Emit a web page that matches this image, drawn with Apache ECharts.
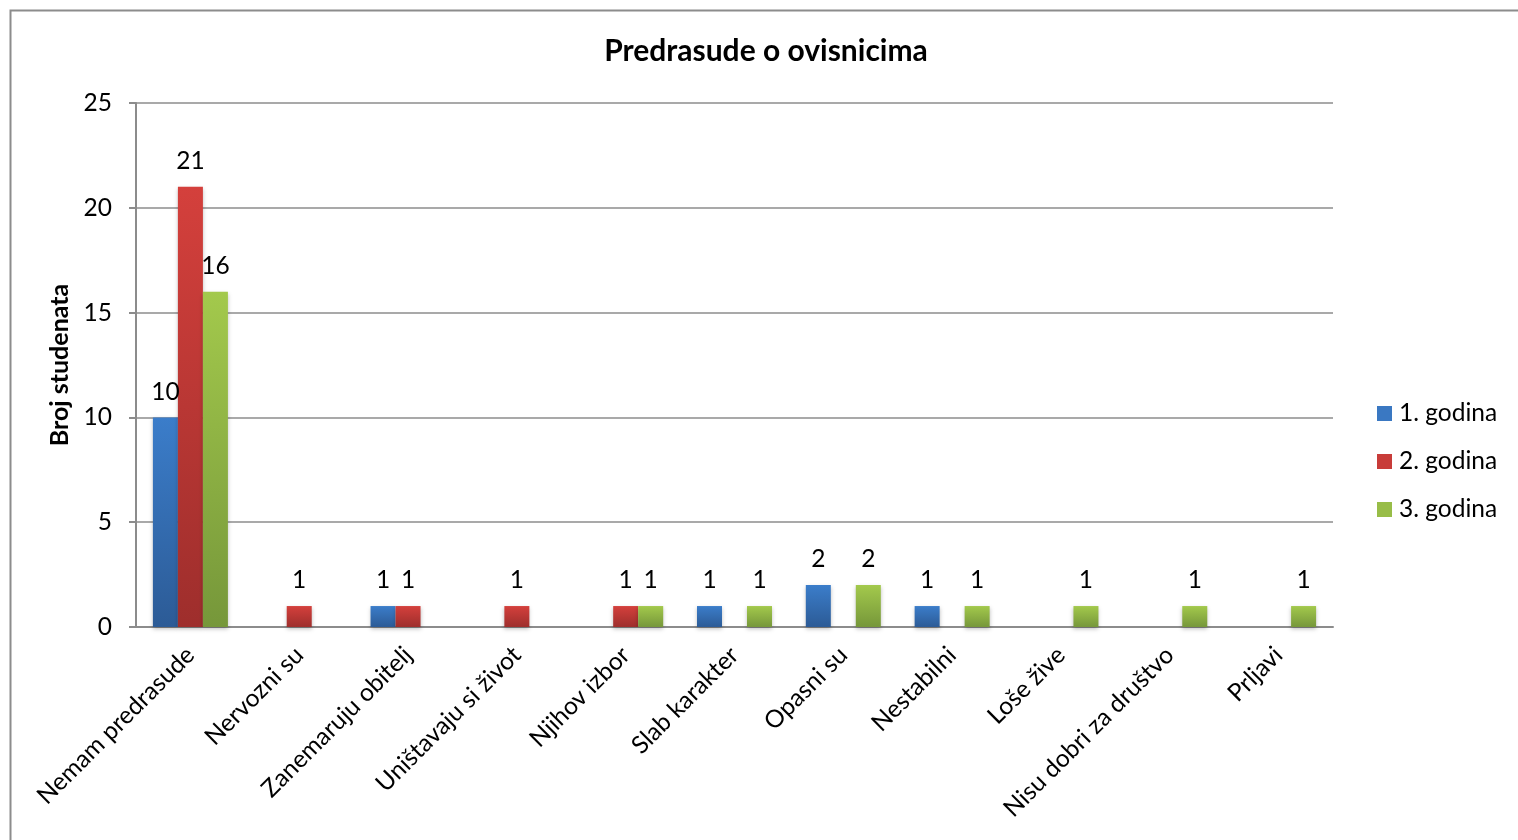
<!DOCTYPE html>
<html>
<head>
<meta charset="utf-8">
<script src="https://cdn.jsdelivr.net/npm/echarts@6/dist/echarts.min.js"></script>
<style>
html,body{margin:0;padding:0;background:#fff;}
#c{width:1518px;height:840px;}
</style>
</head>
<body>
<div id="c"></div>
<script>
var categories = ['Nemam predrasude','Nervozni su','Zanemaruju obitelj','Uništavaju si život','Njihov izbor','Slab karakter','Opasni su','Nestabilni','Loše žive','Nisu dobri za društvo','Prljavi'];
var godina1 = [10, null, 1, null, null, 1, 2, 1, null, null, null];
var godina2 = [21, 1, 1, 1, 1, null, null, null, null, null, null];
var godina3 = [16, null, null, null, 1, 1, 2, 1, 1, 1, 1];
var seriesNames = ['1. godina','2. godina','3. godina'];
var yTicks = [0, 5, 10, 15, 20, 25];

var FONT = 'Lato';
var FS = 24.5;
function grad(top, bottom){
  return new echarts.graphic.LinearGradient(0,0,0,1,[{offset:0,color:top},{offset:1,color:bottom}]);
}
var colors = [
  grad('#3b7dca','#2c5b96'),
  grad('#d4403c','#9e2e2c'),
  grad('#a3c94c','#76973a')
];
var legendColors = ['#3a78c2','#c83c39','#98bd48'];

function mkSeries(name, data, i){
  return {
    name: name,
    type: 'bar',
    data: data,
    barWidth: 25,
    barGap: '0%',
    itemStyle: {color: colors[i], shadowBlur: 4, shadowColor: 'rgba(0,0,0,0.25)', shadowOffsetY: 2},
    label: {show: true, position: 'top', distance: 13, color: '#000', fontFamily: FONT, fontSize: FS}
  };
}

var chart = echarts.init(document.getElementById('c'));
chart.setOption({
  animation: false,
  backgroundColor: '#fff',
  color: legendColors,
  graphic: [{
    type: 'rect', shape: {x: 10.5, y: 10.5, width: 1530, height: 860},
    style: {fill: 'none', stroke: '#8c8c8c', lineWidth: 2}, silent: true
  }],
  title: {
    text: 'Predrasude o ovisnicima',
    left: 761, top: 31, textAlign: 'center',
    textStyle: {fontFamily: FONT, fontWeight: 'bold', fontSize: 30, color: '#000'}
  },
  legend: {
    orient: 'vertical',
    left: 1372, top: 396,
    itemWidth: 15, itemHeight: 15,
    itemGap: 23,
    icon: 'rect',
    data: seriesNames.map(function(n, i){ return {name: n, itemStyle: {color: legendColors[i]}}; }),
    textStyle: {fontFamily: FONT, fontSize: FS, lineHeight: 24, color: '#000', padding: [0,0,0,2]}
  },
  grid: {left: 136, right: 185, top: 103, bottom: 213, containLabel: false},
  xAxis: {
    type: 'category',
    data: categories,
    axisTick: {show: false},
    axisLine: {lineStyle: {color: '#8c8c8c', width: 2}},
    axisLabel: {rotate: 45, interval: 0, margin: 24, color: '#000', fontFamily: FONT, fontSize: FS}
  },
  yAxis: {
    type: 'value',
    min: yTicks[0], max: yTicks[yTicks.length-1], interval: 5,
    name: 'Broj studenata',
    nameLocation: 'middle',
    nameGap: 62,
    nameTextStyle: {fontFamily: FONT, fontWeight: 'bold', fontSize: 25, color: '#000'},
    axisLine: {show: true, lineStyle: {color: '#8c8c8c', width: 2}},
    axisTick: {show: true, inside: false, length: 7, lineStyle: {color: '#8c8c8c', width: 2}},
    splitLine: {lineStyle: {color: '#8c8c8c', width: 1.5}},
    axisLabel: {margin: 24, color: '#000', fontFamily: FONT, fontSize: FS}
  },
  series: [
    mkSeries(seriesNames[0], godina1, 0),
    mkSeries(seriesNames[1], godina2, 1),
    mkSeries(seriesNames[2], godina3, 2)
  ]
});
</script>
</body>
</html>
